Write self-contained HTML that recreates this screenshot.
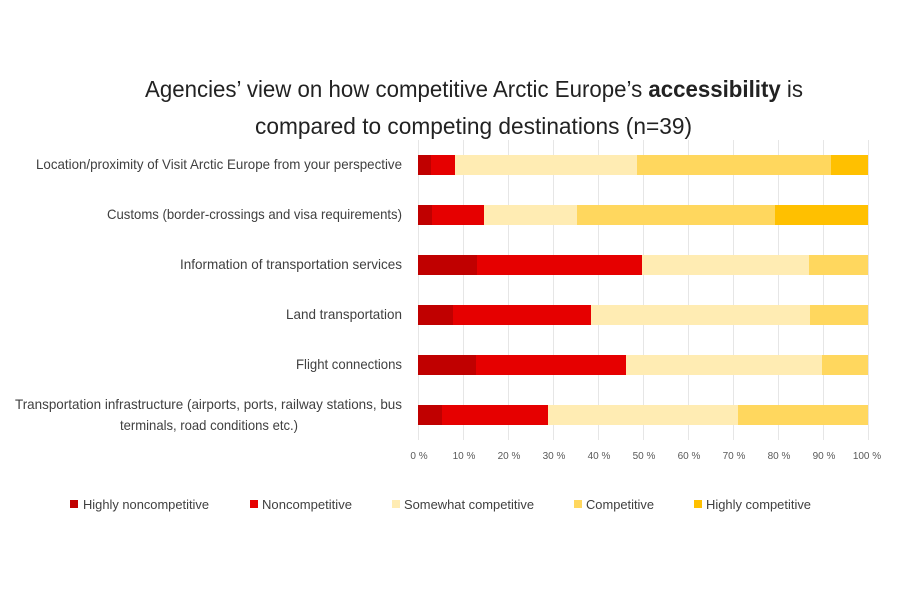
<!DOCTYPE html>
<html><head><style>
body{margin:0;background:#fff;width:900px;height:600px;overflow:hidden;font-family:"Liberation Sans",sans-serif;}
</style></head><body>
<svg width="900" height="600" xmlns="http://www.w3.org/2000/svg" font-family="Liberation Sans, sans-serif">
<text x="145" y="97" font-size="23" fill="#222" textLength="658" lengthAdjust="spacingAndGlyphs">Agencies’ view on how competitive Arctic Europe’s <tspan font-weight="bold">accessibility</tspan> is</text>
<text x="255" y="134" font-size="23" fill="#222" textLength="437" lengthAdjust="spacingAndGlyphs">compared to competing destinations (n=39)</text>
<g stroke="#e6e6e6" stroke-width="1">
<line x1="418.5" y1="140" x2="418.5" y2="440"/><line x1="463.5" y1="140" x2="463.5" y2="440"/><line x1="508.5" y1="140" x2="508.5" y2="440"/><line x1="553.5" y1="140" x2="553.5" y2="440"/><line x1="598.5" y1="140" x2="598.5" y2="440"/><line x1="643.5" y1="140" x2="643.5" y2="440"/><line x1="688.5" y1="140" x2="688.5" y2="440"/><line x1="733.5" y1="140" x2="733.5" y2="440"/><line x1="778.5" y1="140" x2="778.5" y2="440"/><line x1="823.5" y1="140" x2="823.5" y2="440"/><line x1="868.5" y1="140" x2="868.5" y2="440"/>
</g>
<g>
<rect x="418" y="155" width="13" height="20" fill="#c00000"/><rect x="431" y="155" width="24" height="20" fill="#e60000"/><rect x="455" y="155" width="182" height="20" fill="#ffecb3"/><rect x="637" y="155" width="194" height="20" fill="#ffd75e"/><rect x="831" y="155" width="37" height="20" fill="#ffc000"/>
<rect x="418" y="205" width="14" height="20" fill="#c00000"/><rect x="432" y="205" width="52" height="20" fill="#e60000"/><rect x="484" y="205" width="93" height="20" fill="#ffecb3"/><rect x="577" y="205" width="198" height="20" fill="#ffd75e"/><rect x="775" y="205" width="93" height="20" fill="#ffc000"/>
<rect x="418" y="255" width="59" height="20" fill="#c00000"/><rect x="477" y="255" width="165" height="20" fill="#e60000"/><rect x="642" y="255" width="167" height="20" fill="#ffecb3"/><rect x="809" y="255" width="59" height="20" fill="#ffd75e"/>
<rect x="418" y="305" width="35" height="20" fill="#c00000"/><rect x="453" y="305" width="138" height="20" fill="#e60000"/><rect x="591" y="305" width="219" height="20" fill="#ffecb3"/><rect x="810" y="305" width="58" height="20" fill="#ffd75e"/>
<rect x="418" y="355" width="58" height="20" fill="#c00000"/><rect x="476" y="355" width="150" height="20" fill="#e60000"/><rect x="626" y="355" width="196" height="20" fill="#ffecb3"/><rect x="822" y="355" width="46" height="20" fill="#ffd75e"/>
<rect x="418" y="405" width="24" height="20" fill="#c00000"/><rect x="442" y="405" width="106" height="20" fill="#e60000"/><rect x="548" y="405" width="190" height="20" fill="#ffecb3"/><rect x="738" y="405" width="130" height="20" fill="#ffd75e"/>
</g>
<g font-size="14" fill="#404040">
<text x="36" y="169" textLength="366" lengthAdjust="spacingAndGlyphs">Location/proximity of Visit Arctic Europe from your perspective</text>
<text x="107" y="219" textLength="295" lengthAdjust="spacingAndGlyphs">Customs (border-crossings and visa requirements)</text>
<text x="180" y="269" textLength="222" lengthAdjust="spacingAndGlyphs">Information of transportation services</text>
<text x="286" y="319" textLength="116" lengthAdjust="spacingAndGlyphs">Land transportation</text>
<text x="296" y="369" textLength="106" lengthAdjust="spacingAndGlyphs">Flight connections</text>
<text x="15" y="409" textLength="387" lengthAdjust="spacingAndGlyphs">Transportation infrastructure (airports, ports, railway stations, bus</text>
<text x="120" y="430" textLength="178" lengthAdjust="spacingAndGlyphs">terminals, road conditions etc.)</text>
</g>
<g font-size="10" fill="#595959" text-anchor="middle">
<text x="419" y="459">0 %</text><text x="464" y="459">10 %</text><text x="509" y="459">20 %</text><text x="554" y="459">30 %</text><text x="599" y="459">40 %</text><text x="644" y="459">50 %</text><text x="689" y="459">60 %</text><text x="734" y="459">70 %</text><text x="779" y="459">80 %</text><text x="824" y="459">90 %</text><text x="867" y="459">100 %</text>
</g>
<g font-size="13" fill="#404040">
<rect x="70" y="500" width="8" height="8" fill="#c00000"/><text x="83" y="509" textLength="126" lengthAdjust="spacingAndGlyphs">Highly noncompetitive</text>
<rect x="250" y="500" width="8" height="8" fill="#e60000"/><text x="262" y="509" textLength="90" lengthAdjust="spacingAndGlyphs">Noncompetitive</text>
<rect x="392" y="500" width="8" height="8" fill="#ffecb3"/><text x="404" y="509" textLength="130" lengthAdjust="spacingAndGlyphs">Somewhat competitive</text>
<rect x="574" y="500" width="8" height="8" fill="#ffd75e"/><text x="586" y="509" textLength="68" lengthAdjust="spacingAndGlyphs">Competitive</text>
<rect x="694" y="500" width="8" height="8" fill="#ffc000"/><text x="706" y="509" textLength="105" lengthAdjust="spacingAndGlyphs">Highly competitive</text>
</g>
</svg>
</body></html>
